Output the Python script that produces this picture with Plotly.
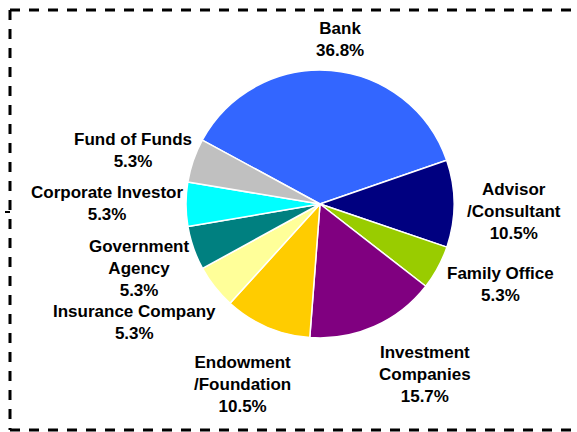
import plotly.graph_objects as go

W, H = 577, 432

# investor types, clockwise from the upper left
labels = ['Bank', 'Advisor<br>/Consultant', 'Family Office', 'Investment<br>Companies',
          'Endowment<br>/Foundation', 'Insurance Company', 'Government<br>Agency',
          'Corporate Investor', 'Fund of Funds']
shares = [36.8, 10.5, 5.3, 15.7, 10.5, 5.3, 5.3, 5.3, 5.3]
colors = ['#3366FF', '#000080', '#99CC00', '#800080', '#FFCC00',
          '#FFFF99', '#008080', '#00FFFF', '#C0C0C0']

# label block centres in pixels (Excel placed them by hand / best fit)
label_pos = [(340, 39), (514, 211), (500, 284), (425, 374), (242, 384),
             (134, 322), (139, 268), (107, 203), (133, 150)]


def px(x):
    return x / W


def py(y):
    return 1 - y / H


fig = go.Figure()
fig.add_trace(go.Pie(
    labels=labels,
    values=shares,
    sort=False,
    direction='clockwise',
    rotation=-61.5,
    textinfo='none',
    hoverinfo='label+percent',
    marker=dict(colors=colors, line=dict(color='white', width=1.5)),
    domain=dict(x=[px(186), px(454)], y=[py(338), py(70)]),
    showlegend=False,
))

for lab, val, (x, y) in zip(labels, shares, label_pos):
    fig.add_annotation(
        x=px(x), y=py(y), xref='paper', yref='paper',
        text='<b>%s<br>%.1f%%</b>' % (lab, val),
        showarrow=False, xanchor='center', yanchor='middle', align='center',
        font=dict(family='Liberation Sans, Arial', size=17, color='black'))

# dashed frame (open on the right)
dash = dict(color='black', width=3, dash='10px,9px')
fig.add_shape(type='line', xref='paper', yref='paper',
              x0=px(10), y0=py(10), x1=px(577), y1=py(10), line=dash)
fig.add_shape(type='line', xref='paper', yref='paper',
              x0=px(10), y0=py(10), x1=px(10), y1=py(430), line=dash)
fig.add_shape(type='line', xref='paper', yref='paper',
              x0=px(10), y0=py(430), x1=px(577), y1=py(430), line=dash)
fig.add_shape(type='line', xref='paper', yref='paper',
              x0=px(5), y0=py(212), x1=px(10), y1=py(212),
              line=dict(color='black', width=2))

fig.update_layout(
    width=W, height=H,
    margin=dict(l=0, r=0, t=0, b=0),
    paper_bgcolor='white', plot_bgcolor='white',
)

# drop the default 8px page margin so the figure sits at the window's corner
fig.write_html("out.html", config={'displayModeBar': False},
               post_script="document.body.style.margin='0';document.body.style.overflow='hidden';")
